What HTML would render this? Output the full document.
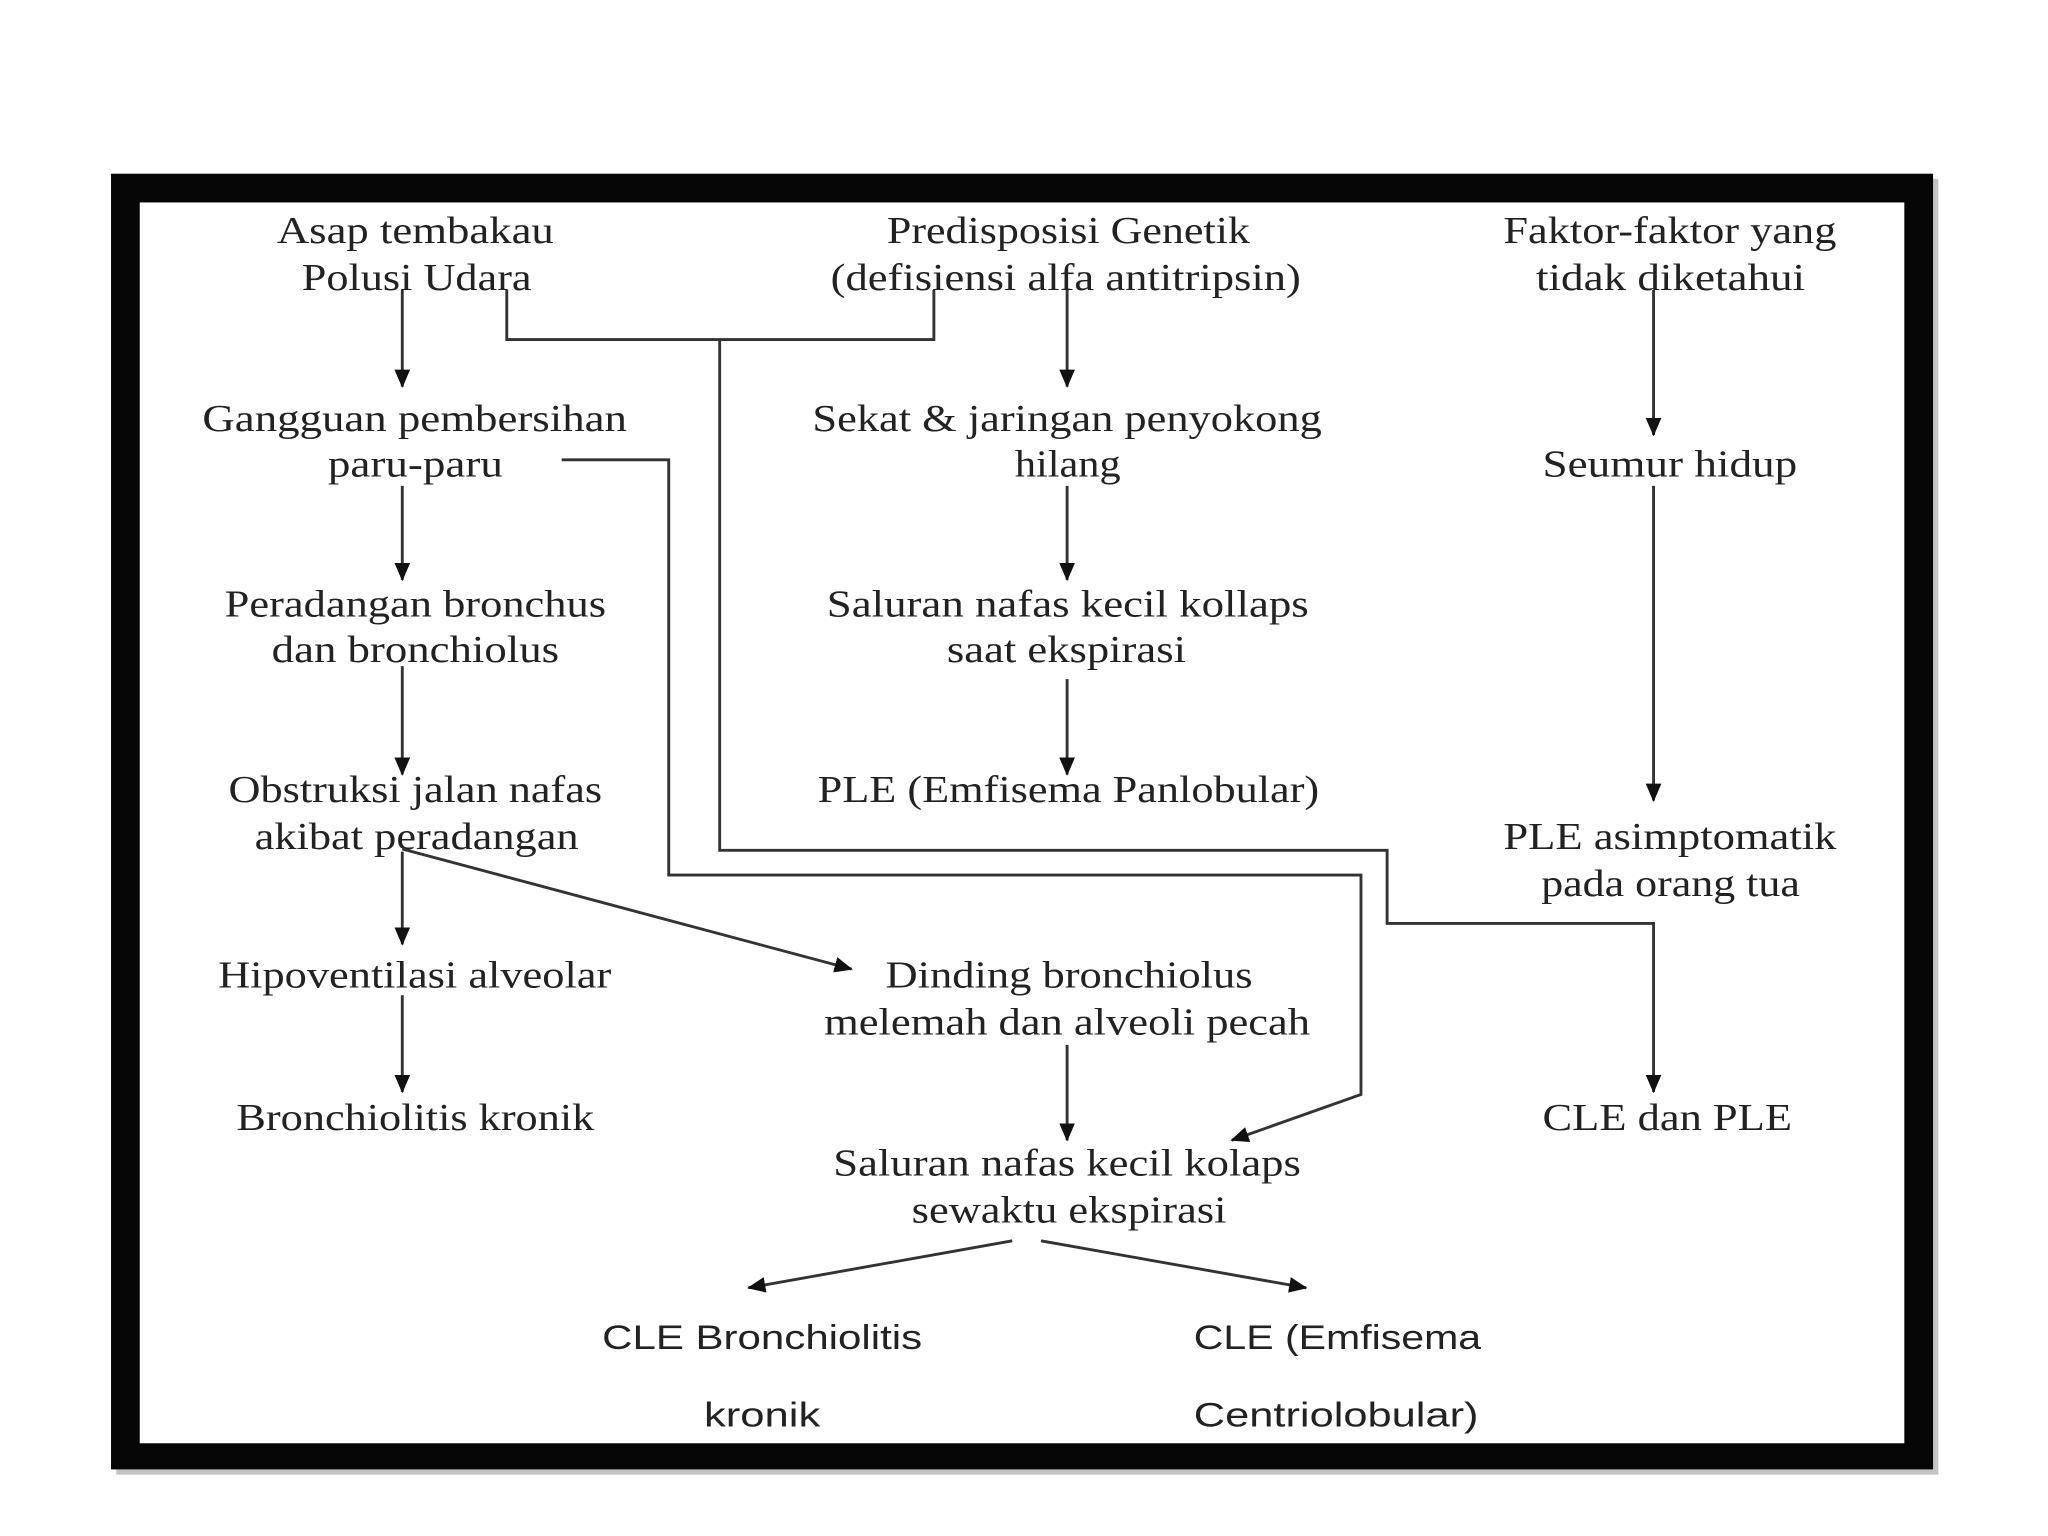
<!DOCTYPE html>
<html><head><meta charset="utf-8"><style>
html,body{margin:0;padding:0;background:#fff;}
svg{display:block;}
.s{font-family:"Liberation Serif",serif;font-size:29px;fill:#222;}
.a{font-family:"Liberation Sans",sans-serif;font-size:26px;fill:#222;}
line,polyline{stroke:#333;stroke-width:2.2;fill:none;}
</style></head><body>
<svg width="2048" height="1536" viewBox="0 0 1568 1176" preserveAspectRatio="none" xmlns="http://www.w3.org/2000/svg">
<defs>
<marker id="ar" viewBox="0 0 14 12" refX="13" refY="6" markerWidth="14" markerHeight="12" markerUnits="userSpaceOnUse" orient="auto">
<path d="M0,0 L14,6 L0,12 z" fill="#111"/>
</marker>
</defs>
<rect x="89" y="137" width="1395" height="992" fill="#888" opacity="0.5"/>
<rect x="85" y="133" width="1395" height="992" fill="#050505"/>
<rect x="107" y="155" width="1351" height="950" fill="#fff"/>

<g class="s" text-anchor="start">
<text x="212" y="186" textLength="212" lengthAdjust="spacingAndGlyphs">Asap tembakau</text>
<text x="231" y="222" textLength="176" lengthAdjust="spacingAndGlyphs">Polusi Udara</text>
<text x="679" y="186" textLength="278" lengthAdjust="spacingAndGlyphs">Predisposisi Genetik</text>
<text x="636" y="222" textLength="360" lengthAdjust="spacingAndGlyphs">(defisiensi alfa antitripsin)</text>
<text x="1151" y="186" textLength="255" lengthAdjust="spacingAndGlyphs">Faktor-faktor yang</text>
<text x="1176" y="222" textLength="206" lengthAdjust="spacingAndGlyphs">tidak diketahui</text>
<text x="155" y="330" textLength="325" lengthAdjust="spacingAndGlyphs">Gangguan pembersihan</text>
<text x="251" y="365" textLength="134" lengthAdjust="spacingAndGlyphs">paru-paru</text>
<text x="622" y="330" textLength="390" lengthAdjust="spacingAndGlyphs">Sekat &amp; jaringan penyokong</text>
<text x="777" y="365" textLength="81" lengthAdjust="spacingAndGlyphs">hilang</text>
<text x="1181" y="365" textLength="195" lengthAdjust="spacingAndGlyphs">Seumur hidup</text>
<text x="172" y="472" textLength="292" lengthAdjust="spacingAndGlyphs">Peradangan bronchus</text>
<text x="208" y="507" textLength="220" lengthAdjust="spacingAndGlyphs">dan bronchiolus</text>
<text x="633" y="472" textLength="369" lengthAdjust="spacingAndGlyphs">Saluran nafas kecil kollaps</text>
<text x="725" y="507" textLength="183" lengthAdjust="spacingAndGlyphs">saat ekspirasi</text>
<text x="175" y="614" textLength="286" lengthAdjust="spacingAndGlyphs">Obstruksi jalan nafas</text>
<text x="195" y="650" textLength="248" lengthAdjust="spacingAndGlyphs">akibat peradangan</text>
<text x="626" y="614" textLength="384" lengthAdjust="spacingAndGlyphs">PLE (Emfisema Panlobular)</text>
<text x="1151" y="650" textLength="255" lengthAdjust="spacingAndGlyphs">PLE asimptomatik</text>
<text x="1180" y="686" textLength="198" lengthAdjust="spacingAndGlyphs">pada orang tua</text>
<text x="167" y="756" textLength="301" lengthAdjust="spacingAndGlyphs">Hipoventilasi alveolar</text>
<text x="678" y="756" textLength="281" lengthAdjust="spacingAndGlyphs">Dinding bronchiolus</text>
<text x="631" y="792" textLength="372" lengthAdjust="spacingAndGlyphs">melemah dan alveoli pecah</text>
<text x="181" y="865" textLength="274" lengthAdjust="spacingAndGlyphs">Bronchiolitis kronik</text>
<text x="1181" y="865" textLength="191" lengthAdjust="spacingAndGlyphs">CLE dan PLE</text>
<text x="638" y="900" textLength="358" lengthAdjust="spacingAndGlyphs">Saluran nafas kecil kolaps</text>
<text x="698" y="936" textLength="241" lengthAdjust="spacingAndGlyphs">sewaktu ekspirasi</text>
</g>
<g class="a">
<text x="461" y="1033" textLength="245" lengthAdjust="spacingAndGlyphs">CLE Bronchiolitis</text>
<text x="539" y="1092" textLength="89" lengthAdjust="spacingAndGlyphs">kronik</text>
<text x="914" y="1033" textLength="220" lengthAdjust="spacingAndGlyphs">CLE (Emfisema</text>
<text x="914" y="1092" textLength="218" lengthAdjust="spacingAndGlyphs">Centriolobular)</text>
</g>

<g marker-end="url(#ar)">
<line x1="308" y1="222" x2="308" y2="296"/>
<line x1="817" y1="222" x2="817" y2="296"/>
<line x1="1266" y1="222" x2="1266" y2="333"/>
<line x1="308" y1="372" x2="308" y2="444"/>
<line x1="308" y1="510" x2="308" y2="593"/>
<line x1="308" y1="652" x2="308" y2="723"/>
<line x1="308" y1="762" x2="308" y2="836"/>
<line x1="817" y1="372" x2="817" y2="444"/>
<line x1="817" y1="520" x2="817" y2="593"/>
<line x1="1266" y1="372" x2="1266" y2="613"/>
<line x1="308" y1="650" x2="652" y2="742"/>
<line x1="817" y1="800" x2="817" y2="873"/>
<line x1="775" y1="950" x2="573" y2="986"/>
<line x1="797" y1="950" x2="1000" y2="986"/>
<polyline points="430,352 512,352 512,670 1042,670 1042,838 943,873"/>
<polyline points="551,260 551,651 1062,651 1062,707 1266,707 1266,836"/>
</g>
<polyline points="388,222 388,260 715,260 715,222"/>
</svg>
</body></html>
